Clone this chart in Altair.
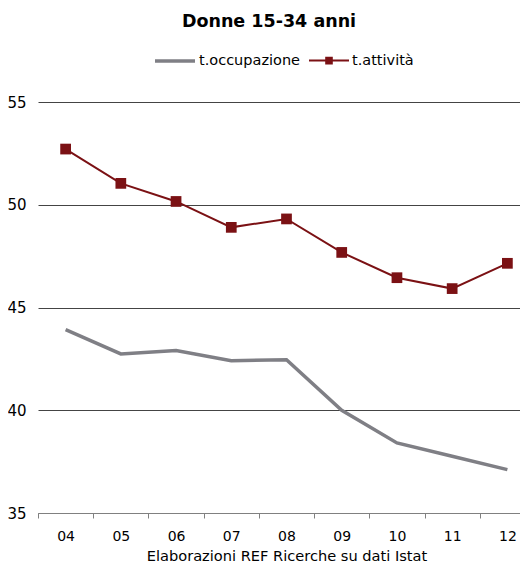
import altair as alt
import pandas as pd

years = ["04", "05", "06", "07", "08", "09", "10", "11", "12"]
occupazione = [43.92, 42.74, 42.91, 42.41, 42.46, 40.00, 38.41, 37.76, 37.11]
attivita = [52.71, 51.04, 50.16, 48.90, 49.31, 47.68, 46.45, 45.92, 47.15]
series = ["t.occupazione", "t.attività"]
colors = ["#7f7f85", "#7b1114"]
y_ticks = [35, 40, 45, 50, 55]

df = pd.DataFrame({
    "anno": years * 2,
    "valore": occupazione + attivita,
    "serie": [series[0]] * len(years) + [series[1]] * len(years),
})

FONT = "DejaVu Sans"
SQ = "M-1,0H1M-0.14,-0.14H0.14V0.14H-0.14Z"
LN = "M-1,0H1"
W = 497
STEP = W / 9

x_enc = alt.X(
    "anno:O", sort=years,
    scale=alt.Scale(type="point", padding=0.5),
    axis=alt.Axis(
        title="Elaborazioni REF Ricerche su dati Istat",
        titleFont=FONT, titleFontSize=14.6, titleFontWeight="normal", titleColor="#000",
        titlePadding=5,
        labelFont=FONT, labelFontSize=14, labelColor="#000", labelAngle=0,
        labelPadding=11, labelOffset=STEP / 2,
        domainColor="#808080", tickColor="#808080", tickSize=5, tickOffset=-STEP / 2,
        grid=False, zindex=1,
    ),
)
y_enc = alt.Y(
    "valore:Q",
    scale=alt.Scale(domain=[35, 55], nice=False, zero=False),
    axis=alt.Axis(
        values=y_ticks, title=None, domain=False, ticks=False,
        labelFont=FONT, labelFontSize=15, labelColor="#000", labelPadding=12,
        grid=True, gridColor="#444444", gridOpacity=1, zindex=0,
    ),
)

legend = alt.Legend(
    title=None, orient="none", direction="horizontal",
    legendX=115, legendY=-63,
    labelFont=FONT, labelFontSize=14.5, labelColor="#000", labelOffset=2,
    symbolSize=1600, columnPadding=4, symbolOpacity=1,
)

base = alt.Chart(df)
occ_line = base.transform_filter(alt.datum.serie == series[0]).mark_line(
    color=colors[0], strokeWidth=3.5).encode(x=x_enc, y=y_enc)
att_line = base.transform_filter(alt.datum.serie == series[1]).mark_line(
    color=colors[1], strokeWidth=2).encode(x=x_enc, y=y_enc)
att_pts = base.transform_filter(alt.datum.serie == series[1]).mark_square(
    size=115, opacity=1, color=colors[1]).encode(x=x_enc, y=y_enc)

legend_layer = base.mark_point(opacity=0, filled=True).encode(
    x=x_enc, y=y_enc,
    shape=alt.Shape("serie:N", scale=alt.Scale(domain=series, range=[LN, SQ]), legend=legend),
    fill=alt.Fill("serie:N", scale=alt.Scale(domain=series, range=["transparent", colors[1]]), legend=legend),
    stroke=alt.Stroke("serie:N", scale=alt.Scale(domain=series, range=colors), legend=legend),
    strokeWidth=alt.StrokeWidth("serie:N", scale=alt.Scale(domain=series, range=[3.5, 2]), legend=legend),
)

chart = alt.layer(occ_line, att_line, att_pts, legend_layer).properties(
    width=W, height=411,
    autosize=alt.AutoSizeParams(type="none"),
    padding={"left": 30, "top": 94, "right": -15, "bottom": 54},
    title=alt.TitleParams("Donne 15-34 anni", font=FONT, fontSize=17.5, fontWeight="bold",
                          color="#000", anchor="middle", frame="group", dx=-17.5, offset=9),
).configure_view(stroke=None)

chart.save("out.html", embed_options={"renderer": "svg", "actions": False})
